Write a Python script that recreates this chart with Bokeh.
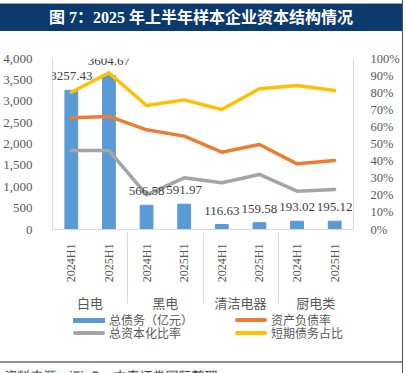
from bokeh.plotting import figure
from bokeh.models import (FactorRange, Range1d, LinearAxis, NumeralTickFormatter, FixedTicker,
                          ColumnDataSource, LabelSet, Div)
from bokeh.layouts import column
from bokeh.embed import file_html
from bokeh.resources import INLINE

# ---- data ----
groups = ["白电", "黑电", "清洁电器", "厨电类"]
periods = ["2024H1", "2025H1"]
total_debt = [3257.43, 3604.67, 566.58, 591.97, 116.63, 159.58, 193.02, 195.12]
debt_ratio = [0.653, 0.661, 0.583, 0.546, 0.452, 0.497, 0.384, 0.404]
cap_ratio = [0.462, 0.462, 0.203, 0.302, 0.273, 0.322, 0.224, 0.234]
short_share = [0.803, 0.916, 0.725, 0.758, 0.702, 0.823, 0.842, 0.813]
debt_ticks = list(range(0, 4001, 500))
pct_ticks = [i / 10 for i in range(11)]
series_names = ["总债务（亿元）", "资产负债率", "总资本化比率", "短期债务占比"]
series_colors = ["#5B9BD5", "#ED7D31", "#A5A5A5", "#FFC000"]
title_text = "图 7：2025 年上半年样本企业资本结构情况"
source_text = "资料来源：iFinD，中泰证券国际整理"

factors = [(g, p) for g in groups for p in periods]
src = ColumnDataSource(dict(
    x=factors, debt=total_debt, dr=debt_ratio, cr=cap_ratio, ss=short_share,
    lbl=["%.2f" % v for v in total_debt],
))

SERIF = "Liberation Serif, Noto Sans CJK SC"
CJK = "Noto Sans CJK SC"

p = figure(x_range=FactorRange(*factors, factor_padding=0, group_padding=0, subgroup_padding=0,
                               range_padding=0),
           y_range=Range1d(0, 4000), width=402, height=284,
           min_border_left=51, min_border_right=48, min_border_top=27, min_border_bottom=86,
           output_backend="svg", toolbar_location=None, margin=0)
p.outline_line_color = None
p.grid.visible = False
p.extra_y_ranges = {"pct": Range1d(0, 1)}

p.vbar(x="x", top="debt", width=0.34, source=src, color=series_colors[0])
p.line(x="x", y="dr", source=src, y_range_name="pct", line_color=series_colors[1],
       line_width=3.5, line_join="round", line_cap="round")
p.line(x="x", y="cr", source=src, y_range_name="pct", line_color=series_colors[2],
       line_width=3.5, line_join="round", line_cap="round")
p.line(x="x", y="ss", source=src, y_range_name="pct", line_color=series_colors[3],
       line_width=3.5, line_join="round", line_cap="round")

labels = LabelSet(x="x", y="debt", text="lbl", source=src, text_align="center",
                  text_baseline="middle", y_offset=14, text_font=SERIF,
                  text_font_size="13px", text_color="#404040")
p.add_layout(labels)

# left axis
ya = p.yaxis[0]
ya.ticker = FixedTicker(ticks=debt_ticks)
ya.formatter = NumeralTickFormatter(format="0,0")
ya.axis_line_color = "#D9D9D9"
ya.major_tick_line_color = None
ya.minor_tick_line_color = None
ya.major_label_text_font = SERIF
ya.major_label_text_font_size = "13px"
ya.major_label_text_color = "#595959"
ya.major_label_standoff = 14

# right axis
ra = LinearAxis(y_range_name="pct", ticker=FixedTicker(ticks=pct_ticks),
                formatter=NumeralTickFormatter(format="0%"))
ra.axis_line_color = "#D9D9D9"
ra.major_tick_line_color = None
ra.minor_tick_line_color = None
ra.major_label_text_font = SERIF
ra.major_label_text_font_size = "12.5px"
ra.major_label_text_color = "#595959"
ra.major_label_standoff = 11
p.add_layout(ra, "right")

# bottom axis
xa = p.xaxis[0]
xa.axis_line_color = "#D9D9D9"
xa.major_tick_line_color = None
xa.minor_tick_line_color = None
xa.major_label_orientation = 1.5708
xa.major_label_text_font = SERIF
xa.major_label_text_font_size = "12px"
xa.major_label_text_color = "#595959"
xa.major_label_standoff = 8
xa.group_text_font = CJK
xa.group_text_font_style = "normal"
xa.group_text_font_size = "13px"
xa.group_text_color = "#595959"
xa.separator_line_color = "#D9D9D9"
xa.separator_line_width = 1

# legend (two rows, two columns) as HTML under the figure
def legend_entry(name, color, left, top, bar):
    sw_h = 5 if bar else 4
    radius = "0" if bar else "2px"
    sw = ('<span style="position:absolute;left:%dpx;top:%.1fpx;width:32px;height:%dpx;'
          'background:%s;border-radius:%s;"></span>' % (left, top - sw_h / 2, sw_h, color, radius))
    tx = ('<span style="position:absolute;left:%dpx;top:%.1fpx;font-family:\'Noto Sans CJK SC\';'
          'font-size:12px;line-height:10px;color:#595959;white-space:nowrap;">%s</span>'
          % (left + 36, top - 5, name))
    return sw + tx

legend_html = ('<div style="position:relative;width:402px;height:46px;">'
               + legend_entry(series_names[0], series_colors[0], 73, 5, True)
               + legend_entry(series_names[1], series_colors[1], 235, 5, False)
               + legend_entry(series_names[2], series_colors[2], 73, 17.5, False)
               + legend_entry(series_names[3], series_colors[3], 235, 17.5, False)
               + '</div>')
legend_div = Div(text=legend_html, width=402, height=46, margin=0)

title_div = Div(text=('<div style="box-sizing:border-box;width:402px;height:28px;margin-top:3px;'
                      'border-top:1px solid #A0A0A0;background:#0B3A6E;color:#FFFFFF;'
                      'font-family:\'Liberation Serif\',\'Noto Sans CJK SC\';font-weight:bold;'
                      'font-size:16px;line-height:27px;text-align:center;">'
                      + title_text + '</div>'), width=402, height=31, margin=0)
src_div = Div(text=('<div style="box-sizing:border-box;width:402px;height:12px;'
                    'border-top:2px solid #8C8C8C;padding-top:4px;padding-left:2px;color:#404040;'
                    'font-family:\'Noto Sans CJK SC\';font-style:italic;font-size:13px;'
                    'white-space:nowrap;">' + source_text + '</div>'),
              width=402, height=12, margin=0)

layout = column(title_div, p, legend_div, src_div, spacing=0,
                styles={"border-right": "1px solid #555555"})

open("out.html", "w").write(file_html(layout, INLINE))
